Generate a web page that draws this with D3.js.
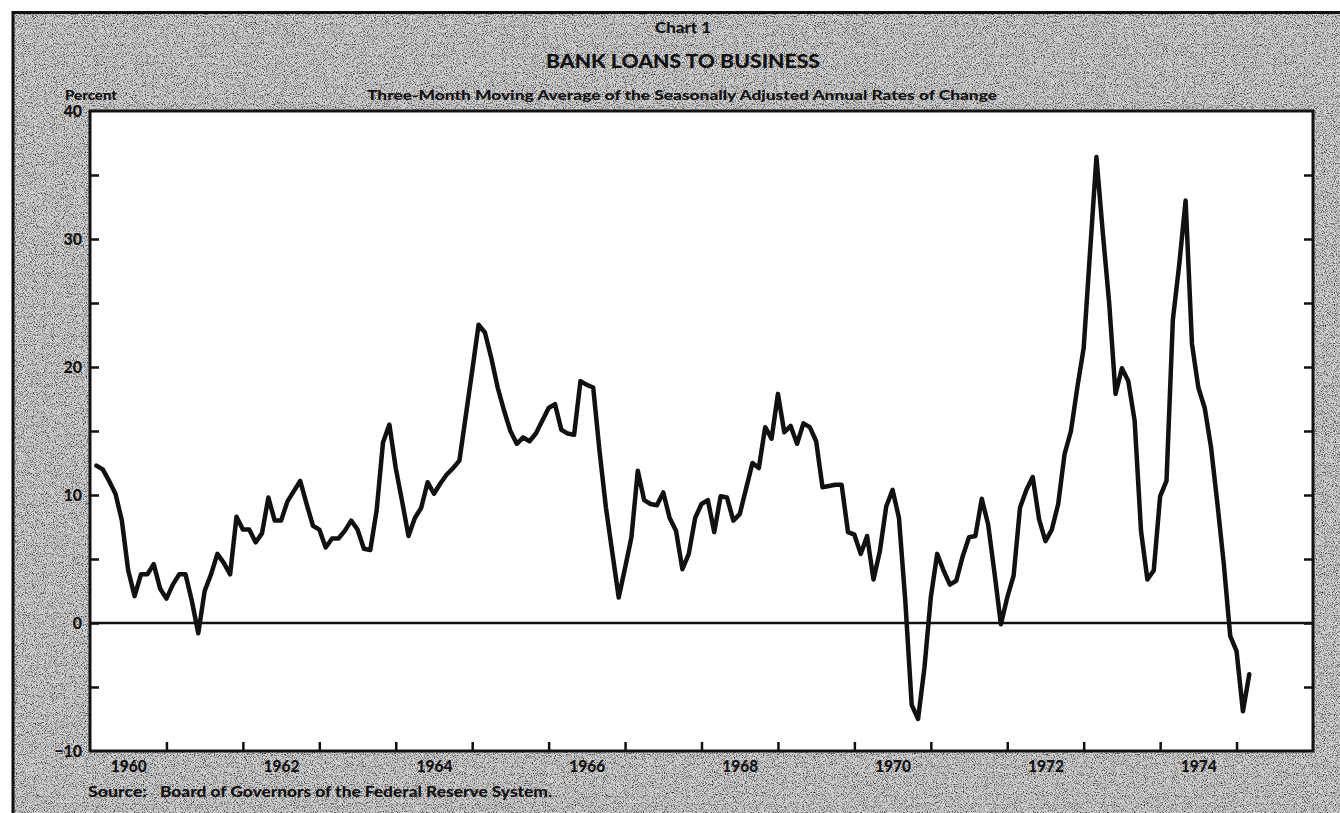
<!DOCTYPE html>
<html>
<head>
<meta charset="utf-8">
<script src="https://cdn.jsdelivr.net/npm/d3@7"></script>
<style>
  html, body { margin: 0; padding: 0; background: #fff; }
  svg { display: block; }
  text { font-family: Lato, 'Open Sans', sans-serif; font-weight: 900; fill: #111; }
</style>
</head>
<body>
<div id="app"></div>
<script>
// Bank loans to business, 3-month moving average of s.a. annual rates of change (%)
// one value per month, starting January 1960
const startYear = 1960;
const monthlyRates = [
  12.3, 12.0, 11.1, 10.1, 8.0, 4.1, 2.1, 3.8, 3.8, 4.6, 2.7, 1.9,      // 1960
  3.0, 3.8, 3.8, 1.7, -0.8, 2.5, 3.8, 5.4, 4.7, 3.8, 8.3, 7.3,         // 1961
  7.3, 6.3, 7.0, 9.8, 8.0, 8.0, 9.5, 10.3, 11.1, 9.3, 7.6, 7.3,        // 1962
  5.9, 6.6, 6.6, 7.2, 8.0, 7.3, 5.8, 5.7, 8.8, 14.1, 15.5, 12.1,       // 1963
  9.5, 6.8, 8.2, 9.0, 11.0, 10.1, 10.9, 11.6, 12.1, 12.7, 16.2, 19.7,  // 1964
  23.3, 22.7, 20.7, 18.4, 16.6, 15.0, 14.0, 14.5, 14.2, 14.8, 15.8, 16.8, // 1965
  17.1, 15.1, 14.8, 14.7, 18.9, 18.6, 18.4, 13.4, 9.0, 5.5, 2.0, 4.3,  // 1966
  6.7, 11.9, 9.6, 9.3, 9.2, 10.2, 8.2, 7.2, 4.2, 5.4, 8.2, 9.3,        // 1967
  9.6, 7.1, 9.9, 9.8, 8.0, 8.5, 10.5, 12.5, 12.1, 15.3, 14.4, 17.9,    // 1968
  14.9, 15.4, 14.0, 15.6, 15.3, 14.2, 10.6, 10.7, 10.8, 10.8, 7.1, 6.9, // 1969
  5.4, 6.8, 3.4, 5.6, 9.1, 10.4, 8.2, 1.7, -6.4, -7.5, -3.5, 2.0,      // 1970
  5.4, 4.1, 3.0, 3.3, 5.2, 6.7, 6.8, 9.7, 7.7, 3.9, -0.1, 2.0,         // 1971
  3.7, 9.0, 10.4, 11.4, 8.1, 6.4, 7.3, 9.3, 13.2, 15.0, 18.4, 21.5,    // 1972
  29.0, 36.4, 30.5, 25.0, 17.9, 19.9, 18.9, 15.8, 7.2, 3.4, 4.1, 9.9,  // 1973
  11.1, 23.7, 28.0, 33.0, 21.8, 18.4, 16.8, 13.7, 9.3, 4.6, -1.0, -2.2, // 1974
  -6.9, -4.0                                                           // 1975
];
const yLabelValues = [40, 30, 20, 10, 0, -10];
const yMinorTicks = [35, 30, 25, 20, 15, 10, 5, 0, -5];
const yearTicks = d3.range(1961, 1976);
const yearLabels = [1960, 1962, 1964, 1966, 1968, 1970, 1972, 1974];

const chartNumber = 'Chart 1';
const title = 'BANK LOANS TO BUSINESS';
const subtitle = 'Three-Month Moving Average of the Seasonally Adjusted Annual Rates of Change';
const sourceLabel = 'Source:';
const sourceText = 'Board of Governors of the Federal Reserve System.';

const data = monthlyRates.map((v, i) => ({ date: startYear + (i + 1) / 12, value: v }));

const W = 1340, H = 813;
const FONT = "Lato, 'Open Sans', sans-serif";
const x = d3.scaleLinear().domain([1960, 1976]).range([90, 1313]);
const y = d3.scaleLinear().domain([-10, 40]).range([751, 111]);
const x0 = x(1960), x1 = x(1976), yTop = y(40), yBot = y(-10);

const svg = d3.select('#app').append('svg')
  .attr('width', W)
  .attr('height', H);

// halftone-ish screen for the grey panel
const defs = svg.append('defs');
const screen = defs.append('filter')
  .attr('id', 'screen')
  .attr('x', 0).attr('y', 0).attr('width', 1).attr('height', 1);
screen.append('feTurbulence')
  .attr('type', 'fractalNoise')
  .attr('baseFrequency', 0.9)
  .attr('numOctaves', 2)
  .attr('seed', 7)
  .attr('result', 'noise');
screen.append('feColorMatrix')
  .attr('in', 'noise')
  .attr('type', 'matrix')
  .attr('values', '0 0 0 0 0  0 0 0 0 0  0 0 0 0 0  2.2 0 0 0 -1.0');

// page: white margin, screened grey panel with a rule on top and left
svg.append('rect').attr('width', W).attr('height', H).attr('fill', '#fff');
svg.append('rect')
  .attr('x', 13).attr('y', 12)
  .attr('width', W - 13).attr('height', H - 12)
  .attr('fill', '#d2d2d2');
svg.append('rect')
  .attr('x', 13).attr('y', 12)
  .attr('width', W - 13).attr('height', H - 12)
  .attr('fill', '#000')
  .attr('filter', 'url(#screen)');
svg.append('path')
  .attr('d', `M13,${H}V12.5H${W}`)
  .attr('fill', 'none')
  .attr('stroke', '#111')
  .attr('stroke-width', 3);

// plot panel
svg.append('rect')
  .attr('x', x0).attr('y', yTop)
  .attr('width', x1 - x0).attr('height', yBot - yTop)
  .attr('fill', '#fff')
  .attr('stroke', '#111')
  .attr('stroke-width', 3);

// titles
svg.append('text')
  .attr('x', 683).attr('y', 33)
  .attr('text-anchor', 'middle')
  .attr('textLength', 56)
  .attr('lengthAdjust', 'spacingAndGlyphs')
  .style('font-size', '15px')
  .text(chartNumber);
svg.append('text')
  .attr('x', 683).attr('y', 68)
  .attr('text-anchor', 'middle')
  .attr('textLength', 274)
  .attr('lengthAdjust', 'spacingAndGlyphs')
  .style('font-size', '19px')
  .text(title);
svg.append('text')
  .attr('x', 682).attr('y', 100)
  .attr('text-anchor', 'middle')
  .attr('textLength', 630)
  .attr('lengthAdjust', 'spacingAndGlyphs')
  .style('font-size', '14px')
  .text(subtitle);
svg.append('text')
  .attr('x', 65).attr('y', 100)
  .attr('textLength', 52)
  .attr('lengthAdjust', 'spacingAndGlyphs')
  .style('font-size', '14px')
  .text('Percent');

// y ticks inside the frame, both sides
const tickStyle = (g) => {
  g.select('.domain').remove();
  g.selectAll('.tick line').attr('stroke', '#111').attr('stroke-width', 2.5);
};
svg.append('g')
  .attr('transform', `translate(${x0},0)`)
  .call(d3.axisRight(y).tickValues(yMinorTicks).tickSize(9).tickFormat(''))
  .call(tickStyle);
svg.append('g')
  .attr('transform', `translate(${x1},0)`)
  .call(d3.axisLeft(y).tickValues(yMinorTicks).tickSize(9).tickFormat(''))
  .call(tickStyle);

// y labels
svg.append('g')
  .attr('transform', `translate(${x0},0)`)
  .call(d3.axisLeft(y).tickValues(yLabelValues).tickSize(0).tickPadding(8)
    .tickFormat(d => d < 0 ? '\u2212' + Math.abs(d) : d))
  .call(g => g.select('.domain').remove())
  .call(g => g.selectAll('text')
    .attr('fill', '#111')
    .style('font-family', FONT)
    .style('font-weight', 900)
    .style('font-size', '16px'));

// x ticks (year boundaries) pointing up from the bottom frame
svg.append('g')
  .attr('transform', `translate(0,${yBot})`)
  .call(d3.axisTop(x).tickValues(yearTicks).tickSize(9).tickFormat(''))
  .call(tickStyle);

// year labels centred in each labelled year
svg.append('g')
  .attr('transform', `translate(0,${yBot})`)
  .call(d3.axisBottom(x).tickValues(yearLabels.map(d => d + 0.5)).tickSize(0).tickPadding(9)
    .tickFormat(d => Math.floor(d)))
  .call(g => g.select('.domain').remove())
  .call(g => g.selectAll('text')
    .attr('fill', '#111')
    .attr('textLength', 36)
    .attr('lengthAdjust', 'spacingAndGlyphs')
    .style('font-family', FONT)
    .style('font-weight', 900)
    .style('font-size', '17px'));

// zero line
svg.append('line')
  .attr('x1', x0).attr('x2', x1)
  .attr('y1', y(0)).attr('y2', y(0))
  .attr('stroke', '#111')
  .attr('stroke-width', 2.5);

// the series
const line = d3.line()
  .x(d => x(d.date))
  .y(d => y(d.value));

svg.append('path')
  .datum(data)
  .attr('d', line)
  .attr('fill', 'none')
  .attr('stroke', '#111')
  .attr('stroke-width', 4.5)
  .attr('stroke-linejoin', 'round')
  .attr('stroke-linecap', 'round');

// source note
svg.append('text')
  .attr('x', 88).attr('y', 797)
  .attr('textLength', 59)
  .attr('lengthAdjust', 'spacingAndGlyphs')
  .style('font-size', '15px')
  .text(sourceLabel);
svg.append('text')
  .attr('x', 160).attr('y', 797)
  .attr('textLength', 392)
  .attr('lengthAdjust', 'spacingAndGlyphs')
  .style('font-size', '15px')
  .text(sourceText);
</script>
</body>
</html>
